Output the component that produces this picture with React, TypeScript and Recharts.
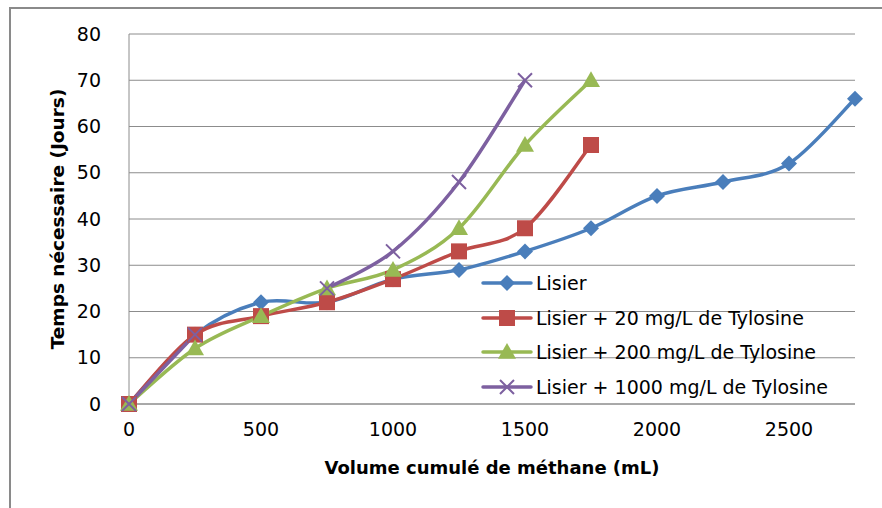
import { CartesianGrid, Line, LineChart, XAxis, YAxis } from "recharts";

const volumes = [0, 250, 500, 750, 1000, 1250, 1500, 1750, 2000, 2250, 2500, 2750];
const lisier = [0, 15, 22, 22, 27, 29, 33, 38, 45, 48, 52, 66];
const tylo20 = [0, 15, 19, 22, 27, 33, 38, 56];
const tylo200 = [0, 12, 19, 25, 29, 38, 56, 70];
const tylo1000 = [0, 15, null, 25, 33, 48, 70];
const xTicks = [0, 500, 1000, 1500, 2000, 2500];
const yTicks = [0, 10, 20, 30, 40, 50, 60, 70, 80];

const data = volumes.map((v, i) => ({
  v,
  lisier: lisier[i],
  t20: tylo20[i],
  t200: tylo200[i],
  t1000: tylo1000[i],
}));

const FONT = "'DejaVu Sans', sans-serif";
const GRID = "#8c8c8c";
const BLUE = "#4a7ebb";
const RED = "#be4b48";
const GREEN = "#98b954";
const PURPLE = "#7d60a0";

type Pt = [number, number];

// Excel-like smoothing: Catmull-Rom through every point
function excelSmooth(context: any) {
  let pts: Pt[] = [];
  const flush = () => {
    if (!pts.length) return;
    context.moveTo(pts[0][0], pts[0][1]);
    for (let i = 0; i < pts.length - 1; i++) {
      const p0 = pts[i - 1] || pts[i];
      const p1 = pts[i];
      const p2 = pts[i + 1];
      const p3 = pts[i + 2] || p2;
      context.bezierCurveTo(
        p1[0] + (p2[0] - p0[0]) / 6,
        p1[1] + (p2[1] - p0[1]) / 6,
        p2[0] - (p3[0] - p1[0]) / 6,
        p2[1] - (p3[1] - p1[1]) / 6,
        p2[0],
        p2[1]
      );
    }
  };
  return {
    areaStart() {},
    areaEnd() {},
    lineStart() {
      pts = [];
    },
    lineEnd() {
      flush();
      pts = [];
    },
    point(x: number, y: number) {
      pts.push([+x, +y]);
    },
  };
}

function Marker({ kind, cx, cy, color }: { kind: string; cx: number; cy: number; color: string }) {
  if (cx == null || cy == null) return null;
  if (kind === "diamond") {
    const r = 8;
    return <path d={`M${cx},${cy - r}L${cx + r},${cy}L${cx},${cy + r}L${cx - r},${cy}Z`} fill={color} />;
  }
  if (kind === "square") {
    const r = 8;
    return <rect x={cx - r} y={cy - r} width={2 * r} height={2 * r} fill={color} />;
  }
  if (kind === "triangle") {
    const r = 9;
    return <path d={`M${cx},${cy - r}L${cx + r},${cy + r * 0.75}L${cx - r},${cy + r * 0.75}Z`} fill={color} />;
  }
  const r = 7;
  return (
    <path
      d={`M${cx - r},${cy - r}L${cx + r},${cy + r}M${cx - r},${cy + r}L${cx + r},${cy - r}`}
      stroke={color}
      strokeWidth={2}
    />
  );
}

const series = [
  { key: "lisier", name: "Lisier", color: BLUE, kind: "diamond" },
  { key: "t20", name: "Lisier + 20 mg/L de Tylosine", color: RED, kind: "square" },
  { key: "t200", name: "Lisier + 200 mg/L de Tylosine", color: GREEN, kind: "triangle" },
  { key: "t1000", name: "Lisier + 1000 mg/L de Tylosine", color: PURPLE, kind: "x" },
];

function LegendBox() {
  return (
    <div
      style={{
        position: "absolute",
        left: 480,
        top: 266,
        fontFamily: FONT,
        fontSize: 19,
        color: "#000",
        whiteSpace: "nowrap",
      }}
    >
      {series.map((s) => (
        <div key={s.key} style={{ display: "flex", alignItems: "center", height: 34.5 }}>
          <svg width={54} height={20} style={{ marginRight: 2 }}>
            <line x1={3} x2={51} y1={10} y2={10} stroke={s.color} strokeWidth={3.5} strokeLinecap="round" />
            <Marker kind={s.kind} cx={27} cy={10} color={s.color} />
          </svg>
          <span>{s.name}</span>
        </div>
      ))}
    </div>
  );
}

export default function App() {
  return (
    <div style={{ position: "fixed", left: 0, top: 0, width: 882, height: 508, background: "#fff" }}>
      <div
        style={{
          position: "absolute",
          left: 9,
          top: 7,
          right: 0,
          bottom: 0,
          borderTop: "2px solid #8a8a8a",
          borderLeft: "2px solid #8a8a8a",
        }}
      />
      <LineChart
        width={882}
        height={508}
        data={data}
        margin={{ top: 34, right: 27, bottom: 0, left: 10 }}
        style={{ position: "absolute", left: 0, top: 0 }}
      >
        <CartesianGrid horizontal vertical={false} stroke={GRID} strokeWidth={1} />
        <XAxis
          dataKey="v"
          type="number"
          domain={[0, 2750]}
          ticks={xTicks}
          height={104}
          axisLine={{ stroke: GRID }}
          tickLine={false}
          tick={{ fill: "#000", fontSize: 19, fontFamily: FONT }}
          tickMargin={13}
          label={({ viewBox }: any) => (
            <text
              x={viewBox.x + viewBox.width / 2}
              y={viewBox.y + 70}
              textAnchor="middle"
              fontFamily={FONT}
              fontSize={18}
              fontWeight="bold"
            >
              Volume cumulé de méthane (mL)
            </text>
          )}
        />
        <YAxis
          type="number"
          domain={[0, 80]}
          ticks={yTicks}
          width={119}
          axisLine={{ stroke: GRID }}
          tickLine={false}
          tick={{ fill: "#000", fontSize: 19, fontFamily: FONT }}
          tickMargin={22}
          label={({ viewBox }: any) => {
            const x = viewBox.x + 54;
            const y = viewBox.y + viewBox.height / 2;
            return (
              <text
                x={x}
                y={y}
                transform={`rotate(-90 ${x} ${y})`}
                textAnchor="middle"
                fontFamily={FONT}
                fontSize={18.5}
                fontWeight="bold"
              >
                Temps nécessaire (Jours)
              </text>
            );
          }}
        />
        {series.map((s) => (
          <Line
            key={s.key}
            dataKey={s.key}
            name={s.name}
            type={excelSmooth as any}
            stroke={s.color}
            strokeWidth={3.5}
            connectNulls={false}
            isAnimationActive={false}
            dot={(p: any) => <Marker key={`${s.key}-${p.index}`} kind={s.kind} cx={p.cx} cy={p.cy} color={s.color} />}
            activeDot={false}
          />
        ))}
      </LineChart>
      <LegendBox />
    </div>
  );
}
